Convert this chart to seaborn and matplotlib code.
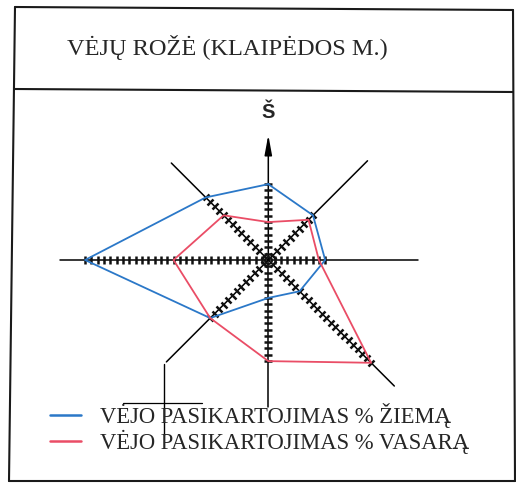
import numpy as np
import pandas as pd
import matplotlib
matplotlib.use("Agg")
import matplotlib.pyplot as plt
from matplotlib.markers import MarkerStyle
from matplotlib.transforms import Affine2D
from matplotlib.lines import Line2D
import seaborn as sns

# ---- data ----
directions = ["Š", "ŠR", "R", "PR", "P", "PV", "V", "ŠV"]
angles_deg = [0, 45, 90, 135, 180, 225, 270, 315]
winter = [12, 10, 9, 7, 6, 13, 29, 14]
summer = [6, 9, 8, 23, 16, 13, 15, 10]
series_labels = ["VĖJO PASIKARTOJIMAS % ŽIEMĄ", "VĖJO PASIKARTOJIMAS % VASARĄ"]
title = "VĖJŲ ROŽĖ (KLAIPĖDOS M.)"
north_label = "Š"

# ---- layout ----
axis_len = [19.8, 22.2, 23.7, 28.2, 23.3, 22.8, 32.9, 21.7]
colors = ["#2b78c8", "#ea4d66"]
W_PX, H_PX = 516, 483
PX = 6.32            # pixels per percent
CX, CY = 268.3, 260  # centre of rose in pixels

sns.set_style("white")
plt.rcParams["font.family"] = ["Liberation Serif", "DejaVu Serif"]

fig = plt.figure(figsize=(W_PX / 100, H_PX / 100), dpi=100)
fig.patch.set_facecolor("white")
ax = fig.add_axes([0, 0, 1, 1])
ax.set_xlim(-CX / PX, (W_PX - CX) / PX)
ax.set_ylim(-(H_PX - CY) / PX, CY / PX)
ax.axis("off")

def fig_pt(xp, yp):
    return xp / W_PX, 1 - yp / H_PX

def data_pt(xp, yp):
    return (xp - CX) / PX, (CY - yp) / PX

theta = np.radians(angles_deg)

# axes of the rose
for a, L in zip(theta, axis_len):
    if a == 0:
        ax.annotate("", xy=(0, L), xytext=(0, 0),
                    arrowprops=dict(arrowstyle="-|>,head_length=1.2,head_width=0.22",
                                    color="black", lw=1.1, mutation_scale=10,
                                    shrinkA=0, shrinkB=0))
    else:
        ax.plot([0, L * np.sin(a)], [0, L * np.cos(a)], color="black", lw=1.1, zorder=2)

# tick marks (one per percent) along each axis
for a, d, w, s in zip(theta, angles_deg, winter, summer):
    n = max(w, s)
    k = np.arange(1, n + 1)
    m = MarkerStyle("_", transform=Affine2D().rotate_deg(-d))
    ax.plot(k * np.sin(a), k * np.cos(a), linestyle="none", marker=m,
            markersize=6, mew=1.8, color="#111111", zorder=3)
ax.plot([0], [0], marker="o", markersize=5, mfc="none", mec="#111111", mew=1.5, zorder=3)

# wind rose polygons
rows = []
for lab, vals in zip(series_labels, [winter, summer]):
    for i in list(range(len(vals))) + [0]:
        r = vals[i]
        rows.append({"series": lab, "x": r * np.sin(theta[i]), "y": r * np.cos(theta[i])})
df = pd.DataFrame(rows)
sns.lineplot(data=df, x="x", y="y", hue="series", palette=colors, sort=False,
             estimator=None, legend=False, lw=1.3, ax=ax, zorder=4)

# north label
nx, ny = data_pt(268.5, 113)
ax.text(nx, ny, north_label, ha="center", va="center", fontsize=14.5, fontweight="bold",
        family=["Liberation Sans", "DejaVu Sans"])

# scan artefact marks
ax.plot(*zip(data_pt(164, 364), data_pt(164, 435)), color="black", lw=1.0)
ax.plot(*zip(data_pt(123, 403), data_pt(202, 403)), color="black", lw=0.9)

# frame
frame = [((15, 7), (513, 10)), ((513, 10), (515, 481)), ((9, 481), (515, 481)),
         ((15, 7), (9, 481)), ((15, 89), (513, 92))]
for p0, p1 in frame:
    x0, y0 = fig_pt(*p0); x1, y1 = fig_pt(*p1)
    fig.add_artist(Line2D([x0, x1], [y0, y1], transform=fig.transFigure,
                          color="#1a1a1a", lw=1.5))

# title
tx, ty = fig_pt(67, 55)
fig.text(tx, ty, title, ha="left", va="baseline", fontsize=17.6)

# legend
for lab, col, ly in zip(series_labels, colors, [415, 441]):
    x0, y0 = fig_pt(50, ly); x1, _ = fig_pt(81, ly)
    fig.add_artist(Line2D([x0, x1], [y0, y0], transform=fig.transFigure, color=col, lw=1.8))
    lx, lyy = fig_pt(100, ly + 8)
    fig.text(lx, lyy, lab, ha="left", va="baseline", fontsize=16.3)

fig.savefig("out.png", dpi=100, facecolor="white")
